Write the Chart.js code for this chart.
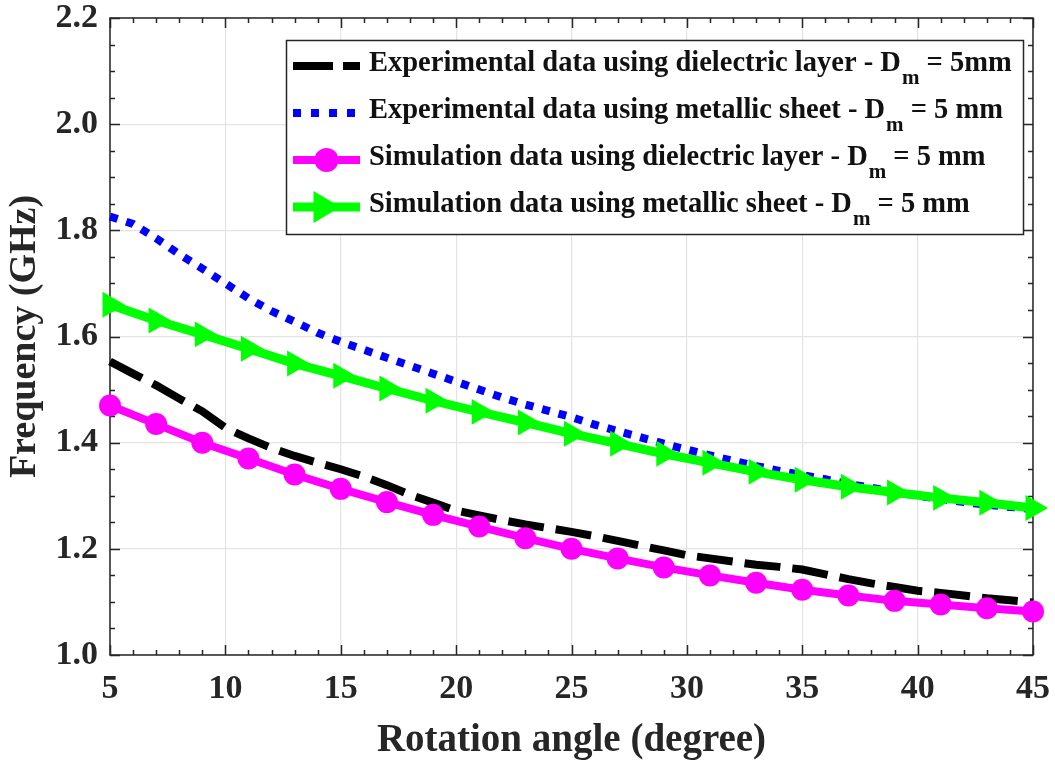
<!DOCTYPE html>
<html>
<head>
<meta charset="utf-8">
<script src="https://cdn.jsdelivr.net/npm/chart.js@4/dist/chart.umd.min.js"></script>
<style>
  body { margin: 0; background: #fff; }
  #wrap { width: 1055px; height: 764px; }
</style>
</head>
<body>
<div id="wrap"><canvas id="chart" width="1055" height="764"></canvas></div>
<script>
// Angles
const expAngles = [5,6,7,8,9,10,11,12,13,14,15,16,17,18,19,20,21,22,23,24,25,26,27,28,29,30,31,32,33,34,35,36,37,38,39,40,41,42,43,44,45];
const simAngles = [5,7,9,11,13,15,17,19,21,23,25,27,29,31,33,35,37,39,41,43,45];

// Frequencies (GHz)
const expDielectric = [1.553,1.530,1.508,1.483,1.459,1.428,1.408,1.390,1.375,1.362,1.350,1.336,1.320,1.302,1.287,1.272,1.263,1.254,1.246,1.239,1.232,1.224,1.215,1.206,1.197,1.188,1.182,1.176,1.170,1.166,1.161,1.152,1.143,1.135,1.128,1.121,1.117,1.112,1.107,1.103,1.099];
const expMetallic = [1.826,1.812,1.785,1.755,1.728,1.700,1.672,1.648,1.628,1.607,1.590,1.575,1.560,1.545,1.530,1.515,1.500,1.485,1.472,1.460,1.448,1.434,1.422,1.410,1.398,1.387,1.376,1.366,1.356,1.347,1.339,1.331,1.322,1.315,1.307,1.300,1.294,1.288,1.283,1.279,1.275];
const simDielectric = [1.470,1.435,1.400,1.370,1.340,1.313,1.288,1.264,1.242,1.220,1.200,1.182,1.165,1.150,1.136,1.123,1.112,1.102,1.095,1.088,1.082];
const simMetallic = [1.660,1.630,1.604,1.577,1.549,1.526,1.502,1.479,1.458,1.438,1.417,1.398,1.379,1.362,1.345,1.330,1.317,1.306,1.296,1.287,1.277];

const legendLabels = [
    'Experimental data using dielectric layer - D|m| = 5mm',
    'Experimental data using metallic sheet - D|m| = 5 mm',
    'Simulation data using dielectric layer - D|m| = 5 mm',
    'Simulation data using metallic sheet - D|m| = 5 mm'
];

const FONT = '"Liberation Serif", "Times New Roman", serif';
const toXY = (xs, ys) => xs.map((x, i) => ({ x: x, y: ys[i] }));

// Box, inward ticks (major + minor) drawn under the data
const axesBox = {
    id: 'axesBox',
    beforeDatasetsDraw(chart) {
        const { ctx, chartArea: a, scales } = chart;
        ctx.save();
        ctx.strokeStyle = '#262626';
        ctx.lineWidth = 1.5;
        ctx.strokeRect(a.left, a.top, a.right - a.left, a.bottom - a.top);
        ctx.beginPath();
        for (let i = 0; i <= 24; i++) {
            const v = 1.0 + i * 0.05;
            const y = Math.round(scales.y.getPixelForValue(v)) + 0.5;
            const len = i % 4 === 0 ? 10 : 5;
            ctx.moveTo(a.left, y); ctx.lineTo(a.left + len, y);
            ctx.moveTo(a.right, y); ctx.lineTo(a.right - len, y);
        }
        for (let v = 5; v <= 45; v++) {
            const x = Math.round(scales.x.getPixelForValue(v)) + 0.5;
            const len = v % 5 === 0 ? 10 : 5;
            ctx.moveTo(x, a.bottom); ctx.lineTo(x, a.bottom - len);
            ctx.moveTo(x, a.top); ctx.lineTo(x, a.top + len);
        }
        ctx.stroke();
        ctx.restore();
    }
};

// Legend with subscript text
const boxLegend = {
    id: 'boxLegend',
    afterDraw(chart) {
        const ctx = chart.ctx;
        const left = 286, top = 40, right = 1023, bottom = 234;
        ctx.save();
        ctx.fillStyle = '#fff';
        ctx.fillRect(left, top, right - left, bottom - top);
        ctx.strokeStyle = '#262626';
        ctx.lineWidth = 1.5;
        ctx.strokeRect(left + 0.5, top + 0.5, right - left, bottom - top);

        const rows = [66, 113, 160, 207];
        chart.data.datasets.forEach((ds, i) => {
            const y = rows[i];
            const x0 = 293, x1 = 360;
            ctx.save();
            ctx.strokeStyle = ds.borderColor;
            ctx.lineWidth = ds.borderWidth;
            ctx.setLineDash(ds.legendDash || []);
            ctx.beginPath();
            ctx.moveTo(x0, y); ctx.lineTo(x1, y);
            ctx.stroke();
            ctx.setLineDash([]);
            const cx = (x0 + x1) / 2;
            if (ds.pointStyle === 'circle') {
                ctx.fillStyle = ds.pointBackgroundColor;
                ctx.beginPath();
                ctx.arc(cx, y, 12, 0, Math.PI * 2);
                ctx.fill();
            } else if (ds.pointStyle === 'triangle') {
                ctx.fillStyle = ds.pointBackgroundColor;
                ctx.beginPath();
                ctx.moveTo(cx + 14, y);
                ctx.lineTo(cx - 13, y - 16);
                ctx.lineTo(cx - 13, y + 16);
                ctx.closePath();
                ctx.fill();
            }
            ctx.restore();

            // text with subscript
            const parts = legendLabels[i].split('|');
            ctx.fillStyle = '#111';
            ctx.textBaseline = 'alphabetic';
            let tx = 369;
            ctx.font = 'bold 28.5px ' + FONT;
            ctx.fillText(parts[0], tx, y + 5);
            tx += ctx.measureText(parts[0]).width + 1;
            ctx.font = 'bold 21px ' + FONT;
            ctx.fillText(parts[1], tx, y + 18);
            tx += ctx.measureText(parts[1]).width;
            ctx.font = 'bold 28.5px ' + FONT;
            ctx.fillText(parts[2], tx, y + 5);
        });
        ctx.restore();
    }
};

new Chart(document.getElementById('chart'), {
    type: 'line',
    data: {
        datasets: [{
            label: legendLabels[0],
            data: toXY(expAngles, expDielectric),
            borderColor: '#000000',
            borderWidth: 8,
            borderDash: [36, 12],
            legendDash: [40, 10],
            pointRadius: 0,
            order: 4
        }, {
            label: legendLabels[1],
            data: toXY(expAngles, expMetallic),
            borderColor: '#0000ff',
            borderWidth: 8,
            borderDash: [8, 9],
            legendDash: [8, 10],
            pointRadius: 0,
            order: 3
        }, {
            label: legendLabels[2],
            data: toXY(simAngles, simDielectric),
            borderColor: '#ff00ff',
            borderWidth: 8,
            pointStyle: 'circle',
            pointRadius: 11,
            pointBackgroundColor: '#ff00ff',
            pointBorderWidth: 0,
            order: 2
        }, {
            label: legendLabels[3],
            data: toXY(simAngles, simMetallic),
            borderColor: '#00ff00',
            borderWidth: 9,
            pointStyle: 'triangle',
            pointRotation: 90,
            pointRadius: 15,
            pointBackgroundColor: '#00ff00',
            pointBorderWidth: 0,
            order: 1
        }]
    },
    options: {
        responsive: false,
        animation: false,
        clip: false,
        layout: { padding: { top: 18, right: 22, left: 0, bottom: 0 } },
        plugins: {
            legend: { display: false },
            tooltip: { enabled: false }
        },
        scales: {
            x: {
                type: 'linear',
                min: 5, max: 45,
                afterFit: s => { s.height = 109; s.paddingLeft = 0; s.paddingRight = 0; },
                grid: { color: '#e3e3e3', lineWidth: 1.2, drawTicks: false },
                border: { display: false },
                ticks: {
                    stepSize: 5,
                    padding: 14,
                    color: '#262626',
                    font: { family: FONT, size: 34, weight: 'bold' }
                },
                title: {
                    display: true,
                    text: 'Rotation angle (degree)',
                    color: '#262626',
                    padding: { top: 0, bottom: 0 },
                    font: { family: FONT, size: 39, weight: 'bold' }
                }
            },
            y: {
                min: 1.0, max: 2.2,
                afterFit: s => { s.width = 110; s.paddingTop = 0; s.paddingBottom = 0; },
                grid: { color: '#e3e3e3', lineWidth: 1.2, drawTicks: false },
                border: { display: false },
                ticks: {
                    stepSize: 0.2,
                    padding: 12,
                    color: '#262626',
                    callback: v => v.toFixed(1),
                    font: { family: FONT, size: 34, weight: 'bold' }
                },
                title: {
                    display: true,
                    text: 'Frequency (GHz)',
                    color: '#262626',
                    padding: { top: 2, bottom: 0 },
                    font: { family: FONT, size: 38, weight: 'bold' }
                }
            }
        }
    },
    plugins: [axesBox, boxLegend]
});
</script>
</body>
</html>
